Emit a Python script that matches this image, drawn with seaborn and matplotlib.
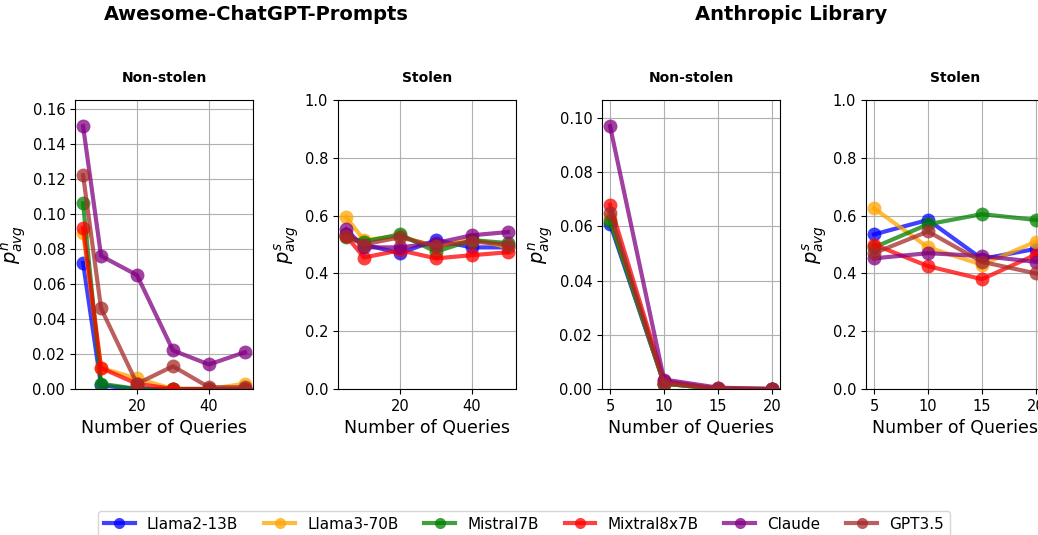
import numpy as np
import pandas as pd
import matplotlib
matplotlib.use('Agg')
import matplotlib.pyplot as plt
import seaborn as sns
from matplotlib.lines import Line2D

# 데이터
models = ['Llama2-13B', 'Llama3-70B', 'Mistral7B', 'Mixtral8x7B', 'Claude', 'GPT3.5']
colors = ['blue', 'orange', 'green', 'red', 'purple', 'brown']

awesome_q = [5, 10, 20, 30, 40, 50]
anthropic_q = [5, 10, 15, 20]

awesome_nonstolen = {
    'Llama2-13B':  [0.072, 0.002, 0.000, 0.000, 0.000, 0.000],
    'Llama3-70B':  [0.089, 0.012, 0.006, 0.000, 0.000, 0.003],
    'Mistral7B':   [0.106, 0.003, 0.000, 0.000, 0.000, 0.000],
    'Mixtral8x7B': [0.092, 0.012, 0.003, 0.000, 0.000, 0.000],
    'Claude':      [0.150, 0.076, 0.065, 0.022, 0.014, 0.021],
    'GPT3.5':      [0.122, 0.046, 0.003, 0.013, 0.001, 0.001],
}
awesome_stolen = {
    'Llama2-13B':  [0.535, 0.500, 0.470, 0.515, 0.490, 0.490],
    'Llama3-70B':  [0.595, 0.515, 0.530, 0.490, 0.520, 0.490],
    'Mistral7B':   [0.525, 0.510, 0.535, 0.475, 0.515, 0.505],
    'Mixtral8x7B': [0.530, 0.455, 0.480, 0.452, 0.463, 0.473],
    'Claude':      [0.553, 0.490, 0.490, 0.505, 0.532, 0.543],
    'GPT3.5':      [0.528, 0.500, 0.525, 0.495, 0.510, 0.500],
}
anthropic_nonstolen = {
    'Llama2-13B':  [0.061, 0.002, 0.000, 0.000],
    'Llama3-70B':  [0.063, 0.002, 0.000, 0.000],
    'Mistral7B':   [0.062, 0.002, 0.000, 0.000],
    'Mixtral8x7B': [0.068, 0.003, 0.000, 0.000],
    'Claude':      [0.097, 0.0035, 0.0005, 0.000],
    'GPT3.5':      [0.065, 0.002, 0.0003, 0.000],
}
anthropic_stolen = {
    'Llama2-13B':  [0.535, 0.585, 0.450, 0.485],
    'Llama3-70B':  [0.625, 0.490, 0.430, 0.510],
    'Mistral7B':   [0.490, 0.570, 0.605, 0.585],
    'Mixtral8x7B': [0.500, 0.425, 0.380, 0.465],
    'Claude':      [0.452, 0.470, 0.460, 0.440],
    'GPT3.5':      [0.470, 0.545, 0.440, 0.400],
}

panels = [
    (awesome_q, awesome_nonstolen, 'Non-stolen', r'$p^n_{avg}$', None),
    (awesome_q, awesome_stolen, 'Stolen', r'$p^s_{avg}$', (0, 1)),
    (anthropic_q, anthropic_nonstolen, 'Non-stolen', r'$p^n_{avg}$', None),
    (anthropic_q, anthropic_stolen, 'Stolen', r'$p^s_{avg}$', (0, 1)),
]

fig = plt.figure(figsize=(10.38, 5.35), dpi=100)
lefts = [75, 338, 602, 866]

for left, (qs, vals, title, ylab, ylim) in zip(lefts, panels):
    ax = fig.add_axes([left / 1038, (535 - 389) / 535, 178 / 1038, 289 / 535])
    df = pd.DataFrame([(q, m, v) for m in models for q, v in zip(qs, vals[m])],
                      columns=['q', 'model', 'val'])
    for m, c in zip(models, colors):
        sub = df[df['model'] == m]
        sns.lineplot(data=sub, x='q', y='val', ax=ax, color=c, marker='o',
                     markersize=10, linewidth=3, alpha=0.75,
                     markeredgewidth=0, markeredgecolor=c)
    if ylim is None:
        ax.set_ylim(0, df['val'].max() * 1.1)
    else:
        ax.set_ylim(*ylim)
    if qs == anthropic_q:
        ax.set_xticks(qs)
    ax.set_title(title, fontsize=10, fontweight='bold', pad=13)
    ax.set_xlabel('Number of Queries', fontsize=12.5)
    ax.set_ylabel(ylab, fontsize=14, labelpad=3)
    ax.tick_params(labelsize=10.5)
    ax.grid(True)

fig.text(256 / 1038, 1 - 14 / 535, 'Awesome-ChatGPT-Prompts', ha='center', va='center',
         fontsize=14, fontweight='bold')
fig.text(791 / 1038, 1 - 14 / 535, 'Anthropic Library', ha='center', va='center',
         fontsize=14, fontweight='bold')

handles = [Line2D([0], [0], color=c, marker='o', markersize=8, linewidth=3, alpha=0.75,
                  markeredgewidth=0) for c in colors]
fig.legend(handles, models, loc='upper center', ncol=6, fontsize=11,
           bbox_to_anchor=(524 / 1038, 1 - 503 / 535), columnspacing=1.7)

plt.savefig('out.png', dpi=100)
